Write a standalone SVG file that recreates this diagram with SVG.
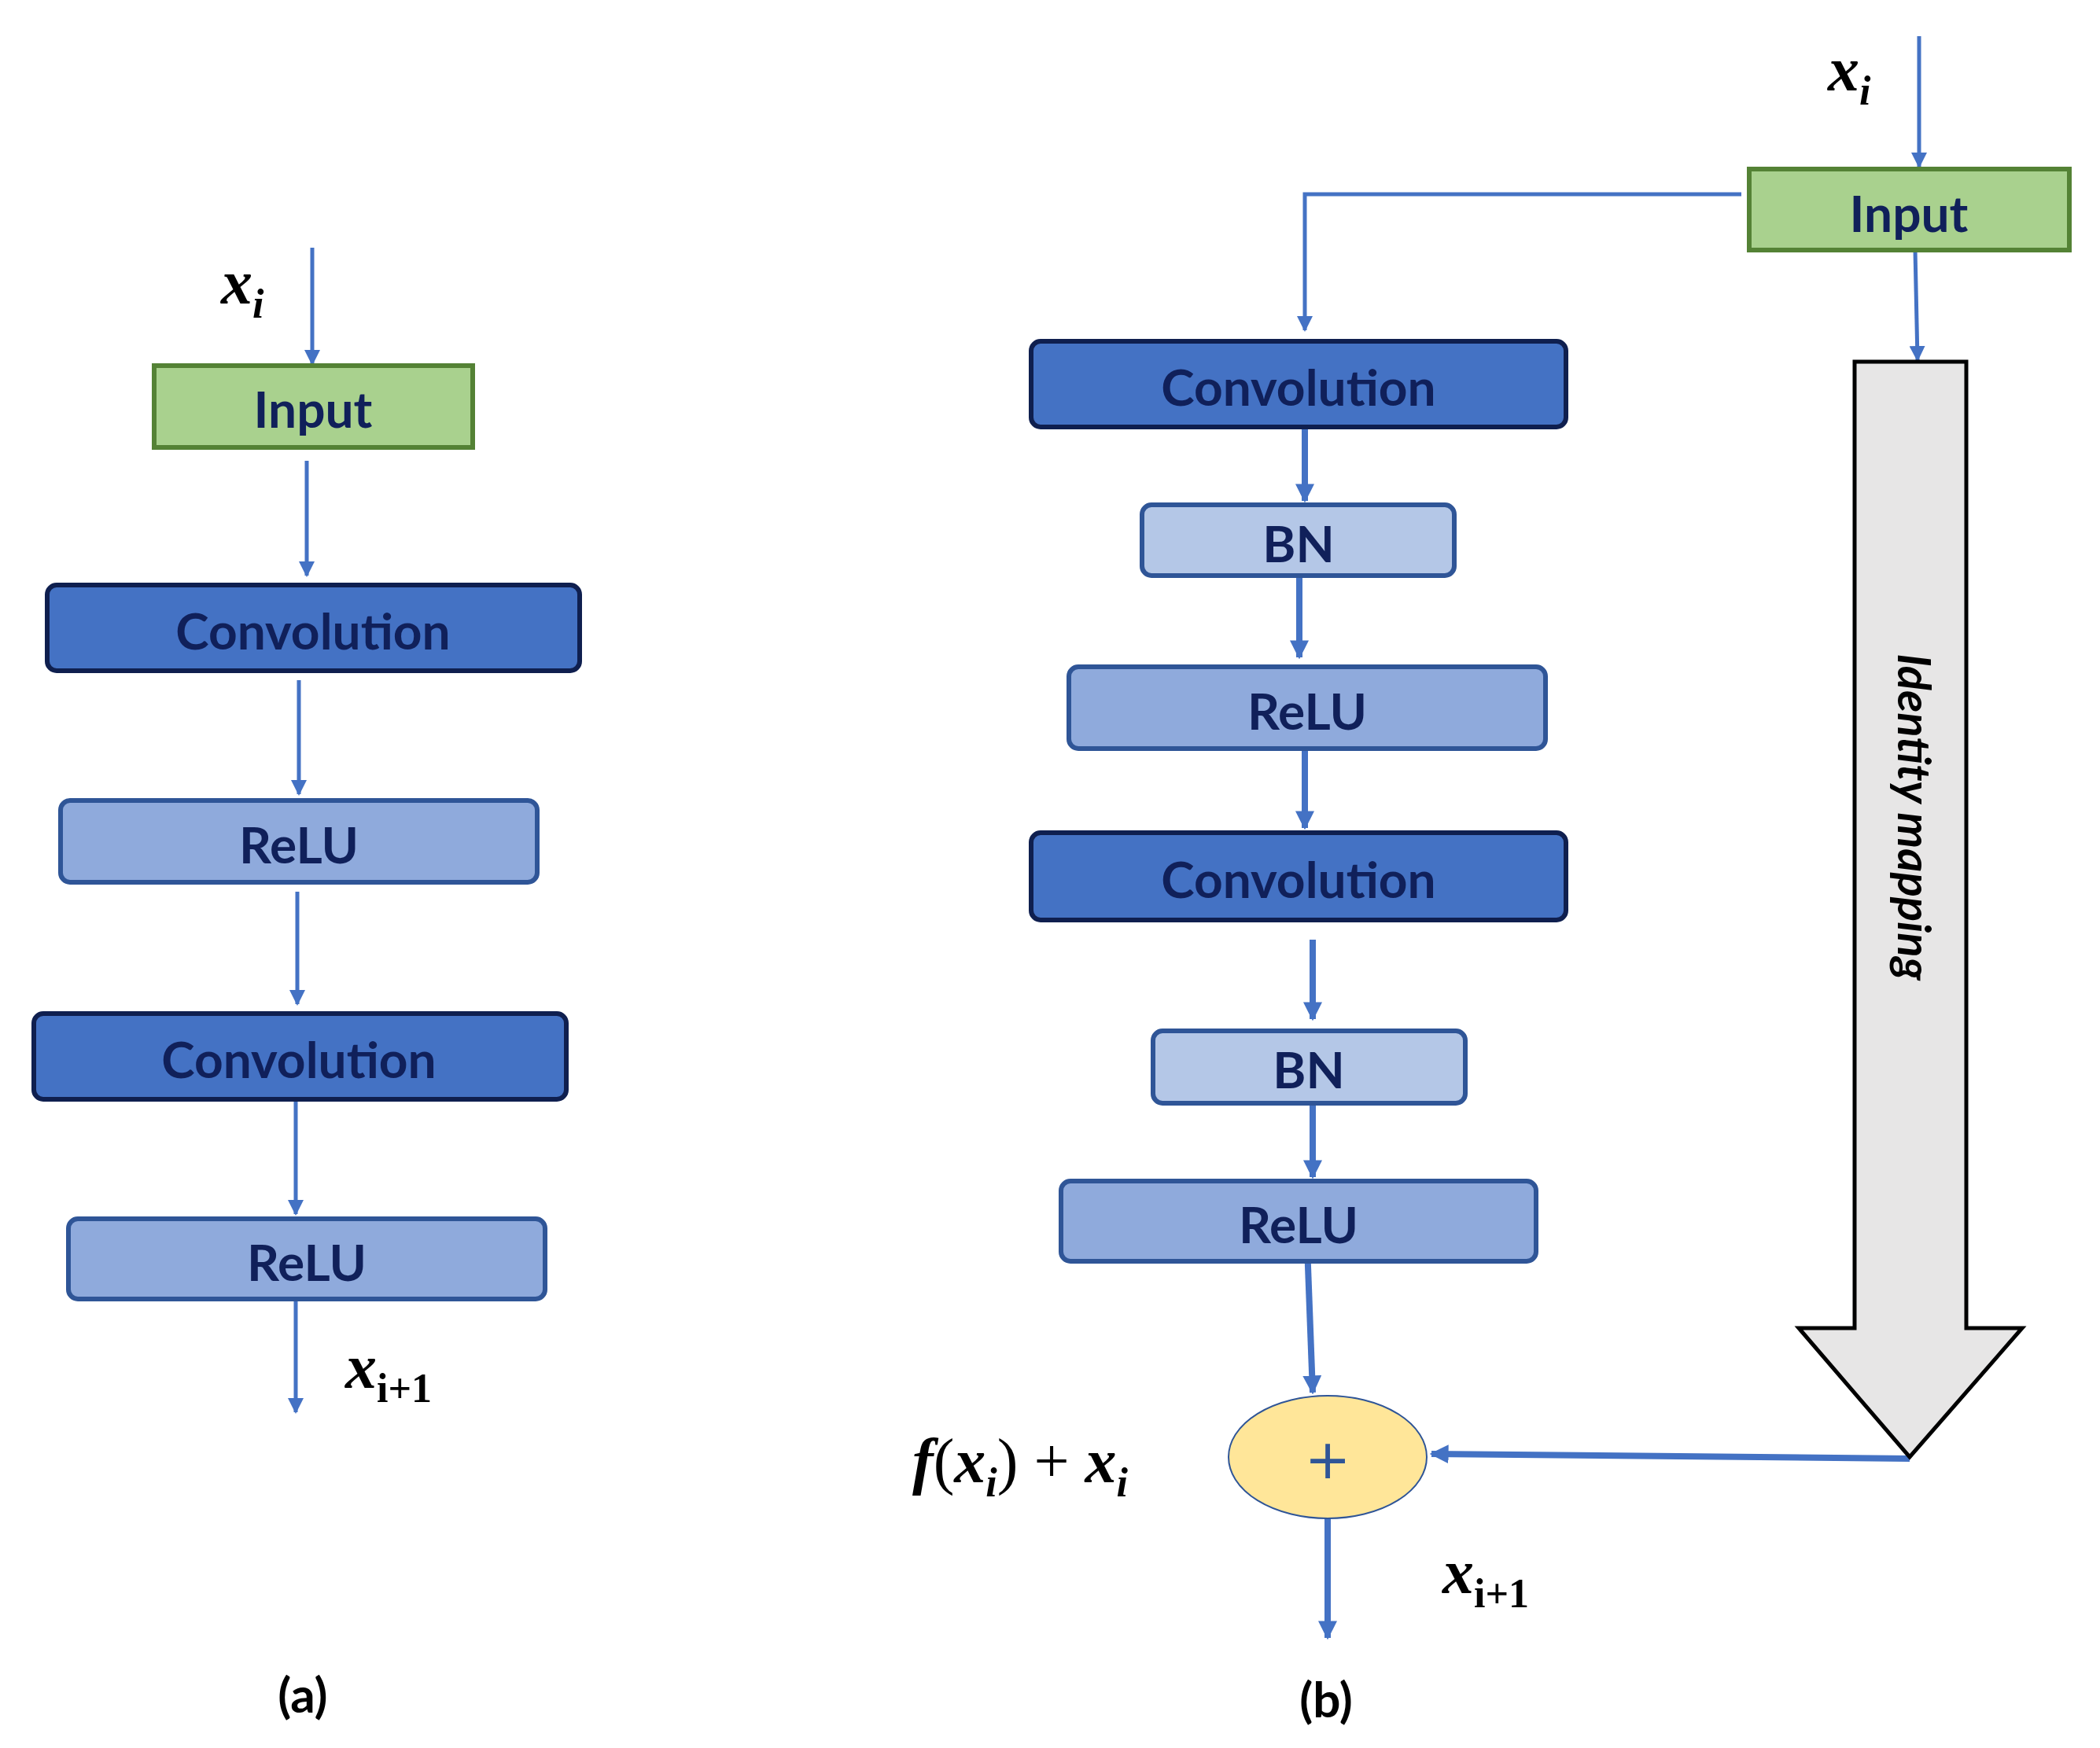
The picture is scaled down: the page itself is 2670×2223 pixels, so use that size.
<svg xmlns="http://www.w3.org/2000/svg" width="2670" height="2223" viewBox="0 0 2670 2223">
<style>
.lbl{font-family:Lato,"Open Sans",sans-serif;font-weight:bold;fill:#10205a;text-anchor:middle;dominant-baseline:central}
.math{font-family:"Liberation Serif","DejaVu Serif",serif;font-weight:bold;font-style:italic;fill:#000}
.conv{fill:#4472c4;stroke:#0f1f4f;stroke-width:6}
.relu{fill:#8faadc;stroke:#2f5597;stroke-width:6}
.bn{fill:#b4c7e7;stroke:#2f5597;stroke-width:6}
.inp{fill:#a9d18e;stroke:#548235;stroke-width:6}
.ln{stroke:#4472c4;stroke-width:5;fill:none}
.thk{stroke:#4472c4;stroke-width:8;fill:none}
</style>
<defs>
<marker id="ah" viewBox="0 0 10 10" refX="9" refY="5" markerWidth="4" markerHeight="4" orient="auto" markerUnits="strokeWidth"><path d="M0,0L10,5L0,10z" fill="#4472c4"/></marker>
<marker id="ah2" viewBox="0 0 10 10" refX="9" refY="5" markerWidth="3" markerHeight="3" orient="auto" markerUnits="strokeWidth"><path d="M0,0L10,5L0,10z" fill="#4472c4"/></marker>
</defs>
<rect width="2670" height="2223" fill="#fff"/>
<g id="connectors">
<line class="ln" x1="397" y1="315" x2="397" y2="463" marker-end="url(#ah)"/>
<line class="ln" x1="390" y1="586" x2="390" y2="732" marker-end="url(#ah)"/>
<line class="ln" x1="380" y1="865" x2="380" y2="1010" marker-end="url(#ah)"/>
<line class="ln" x1="378" y1="1134" x2="378" y2="1277" marker-end="url(#ah)"/>
<line class="ln" x1="376" y1="1400" x2="376" y2="1544" marker-end="url(#ah)"/>
<line class="ln" x1="376" y1="1652" x2="376" y2="1796" marker-end="url(#ah)"/>
<line class="ln" x1="2440" y1="46" x2="2440" y2="212" marker-end="url(#ah)"/>
<polyline class="ln" points="2214,247 1659,247 1659,420" marker-end="url(#ah)"/>
<line class="ln" x1="2435" y1="318" x2="2438" y2="458" marker-end="url(#ah)"/>
<line class="thk" x1="1659" y1="543" x2="1659" y2="637" marker-end="url(#ah2)"/>
<line class="thk" x1="1652" y1="732" x2="1652" y2="836" marker-end="url(#ah2)"/>
<line class="thk" x1="1659" y1="952" x2="1659" y2="1053" marker-end="url(#ah2)"/>
<line class="thk" x1="1669" y1="1195" x2="1669" y2="1296" marker-end="url(#ah2)"/>
<line class="thk" x1="1669" y1="1403" x2="1669" y2="1497" marker-end="url(#ah2)"/>
<line class="thk" x1="1662" y1="1584" x2="1669" y2="1771" marker-end="url(#ah2)"/>
<line class="thk" x1="1688" y1="1931" x2="1688" y2="2083" marker-end="url(#ah2)"/>
<line class="thk" x1="2428" y1="1855" x2="1820" y2="1849" marker-end="url(#ah2)"/>
</g>
<g id="a-input"><rect class="inp" x="196" y="465" width="405" height="104"/><text class="lbl" x="398" y="519" font-size="64">Input</text></g>
<g id="a-conv1"><rect class="conv" x="60" y="744" width="677" height="109" rx="12"/><text class="lbl" x="398" y="801" font-size="64">Convolution</text></g>
<g id="a-relu1"><rect class="relu" x="77" y="1018" width="606" height="104" rx="12"/><text class="lbl" x="380" y="1073" font-size="64">ReLU</text></g>
<g id="a-conv2"><rect class="conv" x="43" y="1289" width="677" height="109" rx="12"/><text class="lbl" x="380" y="1346" font-size="64">Convolution</text></g>
<g id="a-relu2"><rect class="relu" x="87" y="1550" width="606" height="102" rx="12"/><text class="lbl" x="390" y="1604" font-size="64">ReLU</text></g>
<g id="a-labels">
<text class="math" x="281" y="386" font-size="80">x<tspan font-size="52" dy="18">i</tspan></text>
<text class="math" x="439" y="1765" font-size="80">x<tspan font-size="52" dy="18" font-style="normal">i+1</tspan></text>
<text x="385" y="2154" font-family="Lato,sans-serif" font-weight="bold" font-size="62" text-anchor="middle" dominant-baseline="central">(a)</text>
</g>
<g id="b-input"><rect class="inp" x="2224" y="215" width="407" height="103"/><text class="lbl" x="2427" y="270" font-size="64">Input</text></g>
<g id="b-conv1"><rect class="conv" x="1311" y="434" width="680" height="109" rx="12"/><text class="lbl" x="1651" y="491" font-size="64">Convolution</text></g>
<g id="b-bn1"><rect class="bn" x="1452" y="642" width="397" height="90" rx="12"/><text class="lbl" x="1651" y="690" font-size="64">BN</text></g>
<g id="b-relu1"><rect class="relu" x="1359" y="848" width="606" height="104" rx="12"/><text class="lbl" x="1662" y="903" font-size="64">ReLU</text></g>
<g id="b-conv2"><rect class="conv" x="1311" y="1059" width="680" height="111" rx="12"/><text class="lbl" x="1651" y="1117" font-size="64">Convolution</text></g>
<g id="b-bn2"><rect class="bn" x="1466" y="1311" width="397" height="92" rx="12"/><text class="lbl" x="1664" y="1359" font-size="64">BN</text></g>
<g id="b-relu2"><rect class="relu" x="1349" y="1502" width="604" height="102" rx="12"/><text class="lbl" x="1651" y="1556" font-size="64">ReLU</text></g>
<g id="b-add"><ellipse cx="1688" cy="1853" rx="126" ry="78" fill="#ffe699" stroke="#2f5597" stroke-width="2"/><text x="1688" y="1856" font-family="'DejaVu Sans',sans-serif" font-size="70" fill="#2f5597" text-anchor="middle" dominant-baseline="central">+</text></g>
<g id="b-identity">
<polygon points="2358,460 2500,460 2500,1689 2571,1689 2428,1853 2287,1689 2358,1689" fill="#e7e6e6" stroke="#000" stroke-width="5"/>
<text transform="translate(2435,1039) rotate(90)" font-family="Lato,sans-serif" font-weight="bold" font-style="italic" font-size="58" text-anchor="middle" dominant-baseline="central" fill="#000">Identity mapping</text>
</g>
<g id="b-labels">
<text class="math" x="2324" y="115" font-size="80">x<tspan font-size="52" dy="18">i</tspan></text>
<text class="math" x="1834" y="2026" font-size="80">x<tspan font-size="52" dy="18" font-style="normal">i+1</tspan></text>
<text class="math" x="1160" y="1885" font-size="80">f<tspan font-style="normal" font-weight="normal">(</tspan>x<tspan font-size="52" dy="18">i</tspan><tspan dy="-18" font-style="normal" font-weight="normal">) + </tspan>x<tspan font-size="52" dy="18">i</tspan></text>
<text x="1686" y="2160" font-family="Lato,sans-serif" font-weight="bold" font-size="62" text-anchor="middle" dominant-baseline="central">(b)</text>
</g>
</svg>
